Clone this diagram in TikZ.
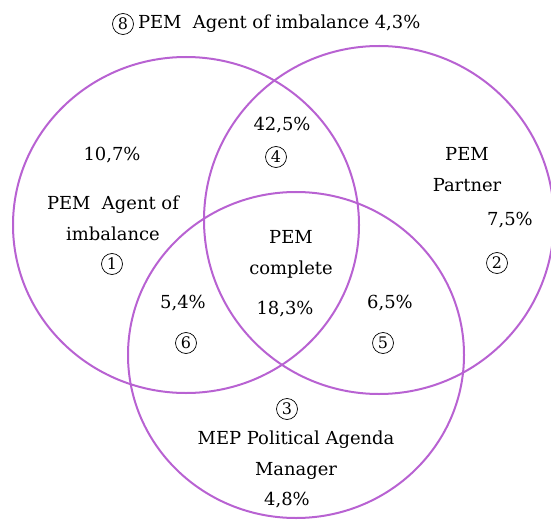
\documentclass[tikz,border=0pt]{standalone}
\usepackage{fontspec}
\setmainfont{DejaVu Serif}
\usetikzlibrary{positioning}
\definecolor{venn}{RGB}{184,98,210}

\begin{document}
\begin{tikzpicture}[x=1bp,y=-1bp,
    ring/.style={draw=venn,line width=2bp},
    lbl/.style={font=\fontsize{18}{31}\selectfont,align=center,inner sep=0pt},
    num/.style={circle,draw,line width=0.7bp,inner sep=0pt,minimum size=21bp,
      font=\fontsize{16}{16}\selectfont}]
  \useasboundingbox (0,0) rectangle (551,523);
  % the three sets
  \draw[ring] (186,225) ellipse [x radius=173, y radius=168];
  \draw[ring] (379,220) ellipse [x radius=175, y radius=174];
  \draw[ring] (296,355) ellipse [x radius=168, y radius=163];
  % outside of all sets
  \node[num] (n8) at (123,24) {8};
  \node[lbl,right=4bp of n8] (t8) {PEM\ \ Agent of imbalance 4,3\%};
  % set 1 only
  \node[lbl] (p1) at (112,155) {10,7\%};
  \node[lbl] (t1) at (113,218) {PEM\ \ Agent of\\imbalance};
  \node[num] (n1) at (112,264) {1};
  % set 2 only
  \node[lbl] (t2) at (467,170) {PEM\\Partner};
  \node[lbl] (p2) at (510,220) {7,5\%};
  \node[num] (n2) at (497,263) {2};
  % set 3 only
  \node[num] (n3) at (287,409) {3};
  \node[lbl] (t3) at (296,455) {MEP Political Agenda\\Manager};
  \node[lbl] (p3) at (287,500) {4,8\%};
  % overlaps
  \node[lbl] (p4) at (282,125) {42,5\%};
  \node[num] (n4) at (276,157) {4};
  \node[lbl] (p6) at (183,303) {5,4\%};
  \node[num] (n6) at (186,343) {6};
  \node[lbl] (p5) at (390,303) {6,5\%};
  \node[num] (n5) at (383,343) {5};
  \node[lbl] (t7) at (291,254) {PEM\\complete};
  \node[lbl] (p7) at (285,309) {18,3\%};
\end{tikzpicture}
\end{document}
